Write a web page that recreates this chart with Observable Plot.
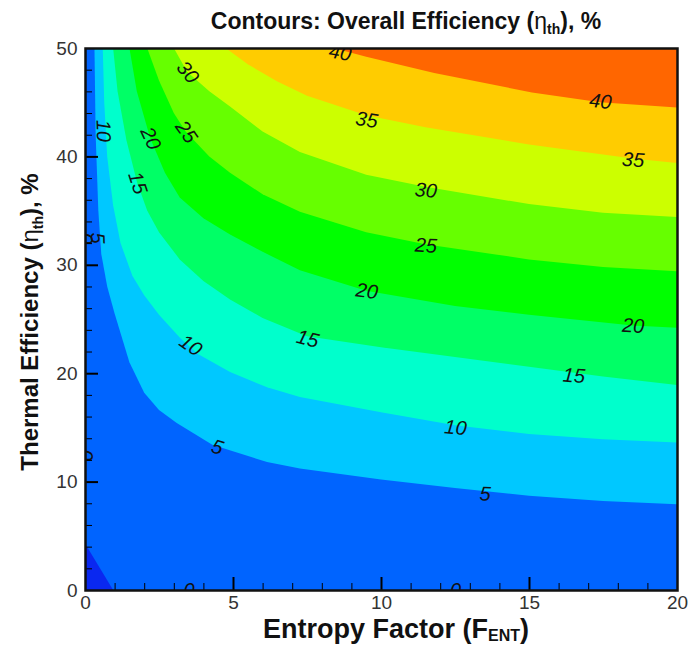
<!DOCTYPE html>
<html><head><meta charset="utf-8">
<script src="https://cdn.jsdelivr.net/npm/d3@7"></script>
<script src="https://cdn.jsdelivr.net/npm/@observablehq/plot@0.6"></script>
<style>body{margin:0;background:#fff;} svg{display:block}</style>
</head><body><div id="chart"></div>
<script>
// ---- data ----
const xDomain = [0, 20];
const yDomain = [0, 50];
const xTicks = [0, 5, 10, 15, 20];
const yTicks = [0, 10, 20, 30, 40, 50];
const xMinorTicks = [1,2,3,4,6,7,8,9,11,12,13,14,16,17,18,19];
const yMinorTicks = [2,4,6,8,12,14,16,18,22,24,26,28,32,34,36,38,42,44,46,48];

const levels = [0, 5, 10, 15, 20, 25, 30, 35, 40];
const colorBelow0 = "#0a28f0";
const colorBase = "#0064ff"; // 0-5
const bandColors = ["#00c8ff", "#00ffcc", "#00ff66", "#00ff00", "#66ff00", "#ccff00", "#ffcc00", "#ff6600"]; // above 5,10,...,40

// contour lines [F_ENT, eta_th]
const contour0 = [[0,4.3],[0.95,0]];
const contour5 = [[0.32,50],[0.36,42],[0.45,35],[0.55,31],[0.75,28],[1.0,25.5],[1.5,21],[2.0,18.2],[2.5,16.6],[3.1,15.4],[4.3,13.4],[6.15,11.8],[7.26,11.2],[10,10.2],[12.5,9.4],[15,8.7],[17.5,8.2],[20,7.9]];
const contour10 = [[0.6,50],[0.65,45],[0.75,40],[0.95,35.5],[1.2,32],[1.6,29],[2.0,27.2],[2.5,25.4],[3.2,23.3],[3.8,21.8],[4.9,20.1],[6.15,18.7],[7.26,17.8],[10,16.4],[12.5,15.2],[15,14.4],[17.5,13.9],[20,13.6]];
const contour15 = [[0.95,50],[1.1,46],[1.4,41.5],[1.76,37.6],[2.1,35],[2.5,33],[3.2,30.5],[4,28.5],[4.9,26.8],[6,25.1],[7.5,23.4],[10,22.4],[12.5,21.5],[15,20.6],[17.5,19.7],[20,18.9]];
const contour20 = [[1.5,50],[1.75,46],[2.2,41.7],[2.7,38.5],[3.2,36.2],[4,34.3],[4.9,32.8],[6,31.2],[7.26,29.5],[9.5,27.6],[12.5,26.2],[15,25.4],[18.5,24.4],[20,24.2]];
const contour25 = [[2.1,50],[2.5,47],[3.0,44],[3.4,42.3],[4.2,40],[4.9,38.5],[6,36.5],[7.26,34.9],[9.5,33],[11.5,31.9],[15,30.5],[17.5,29.8],[20,29.4]];
const contour30 = [[3.0,50],[3.45,47.8],[4.2,46],[4.9,44.6],[6,42.3],[7.26,40.4],[9.5,38.3],[11.5,37.2],[15,35.6],[17.5,34.8],[20,34.4]];
const contour35 = [[4.75,50],[5.5,48.5],[6.5,46.9],[7.5,45.6],[9.5,43.8],[11.5,42.7],[15,41.1],[18.5,39.8],[20,39.4]];
const contour40 = [[8.4,50],[9.5,49.2],[11.8,47.7],[15.1,45.9],[17.4,45.0],[20,44.5]];
const upperContours = [contour5, contour10, contour15, contour20, contour25, contour30, contour35, contour40];

// contour labels
const labelText = ["40","40","35","35","30","30","25","25","20","20","20","15","15","15","10","10","10","5","5","5","0","0","0","0"];
const labelX    = [8.6, 17.4, 9.5, 18.5, 3.45, 11.5, 3.4, 11.5, 2.2, 9.5, 18.5, 1.76, 7.5, 16.5, 0.6, 3.55, 12.5, 0.4, 4.45, 13.5, 3.5, 12.5, 0, 0];
const labelY    = [49.6, 45.1, 43.4, 39.7, 47.8, 36.9, 42.3, 31.8, 41.7, 27.6, 24.4, 37.6, 23.2, 19.8, 42.4, 22.6, 15.0, 32.5, 13.2, 8.9, 0, 0, 12.5, 32.5];
const labelRot  = [10, 6, 8, 4, 50, 5, 55, 3, 65, 7, 3, 72, 14, 4, 88, 35, 5, 88, 18, 3, 0, 0, 90, 90];

// ---- layout ----
const W = 699, H = 646, mL = 85, mR = 22, mT = 48, mB = 56;
const plotW = W - mL - mR, plotH = H - mT - mB;

const labels = labelText.map((t, i) => ({t, x: labelX[i], y: labelY[i], r: labelRot[i]}));

const marks = [
  Plot.frame({fill: colorBase}),
  Plot.areaY(contour0, {x: d => d[0], y1: yDomain[0], y2: d => d[1], fill: colorBelow0, clip: true}),
  ...upperContours.map((c, i) => Plot.areaY(c, {x: d => d[0], y1: d => d[1], y2: yDomain[1], fill: bandColors[i], clip: true})),
  Plot.text(labels, {x: "x", y: "y", text: "t", rotate: "r", fontStyle: "italic", fontSize: 20, fill: "#111", clip: true}),
  Plot.tickX(xTicks.slice(1, -1), {x: d => d, insetTop: plotH - 13, stroke: "#000", strokeWidth: 2}),
  Plot.tickX(xMinorTicks, {x: d => d, insetTop: plotH - 7, stroke: "#000", strokeWidth: 1}),
  Plot.tickY(yTicks.slice(1, -1), {y: d => d, insetRight: plotW - 13, stroke: "#000", strokeWidth: 2}),
  Plot.tickY(yMinorTicks, {y: d => d, insetRight: plotW - 7, stroke: "#000", strokeWidth: 1}),
  Plot.frame({stroke: "#111", strokeWidth: 2.5}),
  Plot.axisX({ticks: xTicks, tickSize: 0, tickPadding: 5, fill: "#333", fontSize: 19, label: null}),
  Plot.axisY({ticks: yTicks, tickSize: 0, tickPadding: 8, fill: "#333", fontSize: 19, label: null})
];

const plot = Plot.plot({
  width: W, height: H,
  marginLeft: mL, marginRight: mR, marginTop: mT, marginBottom: mB,
  x: {domain: xDomain},
  y: {domain: yDomain},
  style: {fontFamily: "'Liberation Sans', Arial, sans-serif", fontSize: "19px", background: "#fff"},
  marks
});

const svg = d3.select(plot);
// title
const title = svg.append("text").attr("x", 406).attr("y", 29).attr("text-anchor", "middle")
  .attr("font-weight", "bold").attr("font-size", 23).attr("fill", "#111");
title.append("tspan").text("Contours: Overall Efficiency (");
title.append("tspan").attr("font-weight", "normal").text("η");
title.append("tspan").attr("font-size", 14).attr("dy", 5).text("th");
title.append("tspan").attr("dy", -5).text("), %");
// x label
const xl = svg.append("text").attr("x", 396).attr("y", 638).attr("text-anchor", "middle")
  .attr("font-weight", "bold").attr("font-size", 27).attr("fill", "#111");
xl.append("tspan").text("Entropy Factor (F");
xl.append("tspan").attr("font-size", 16).attr("dy", 3).text("ENT");
xl.append("tspan").attr("dy", -3).text(")");
// y label
const yl = svg.append("text").attr("transform", "translate(38,322) rotate(-90)").attr("text-anchor", "middle")
  .attr("font-weight", "bold").attr("font-size", 24).attr("fill", "#111");
yl.append("tspan").text("Thermal Efficiency (");
yl.append("tspan").attr("font-weight", "normal").text("η");
yl.append("tspan").attr("font-size", 14).attr("dy", 5).text("th");
yl.append("tspan").attr("dy", -5).text("), %");

document.getElementById("chart").appendChild(plot);
</script>
</body></html>
